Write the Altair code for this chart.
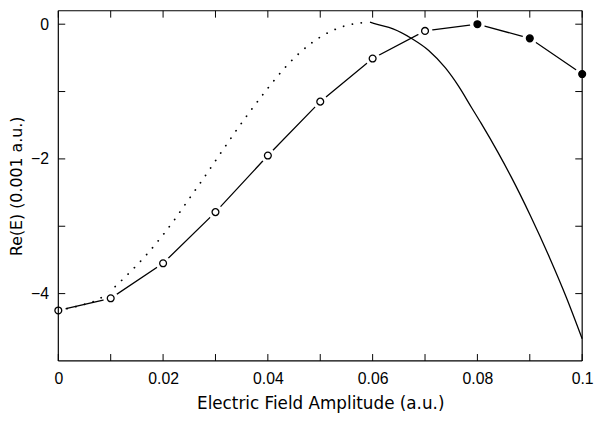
import altair as alt
import pandas as pd

# ---- data ----
field = [0.00, 0.01, 0.02, 0.03, 0.04, 0.05, 0.06, 0.07, 0.08, 0.09, 0.10]
energy = [-4.25, -4.07, -3.55, -2.79, -1.95, -1.15, -0.51, -0.10, 0.00, -0.21, -0.74]
marker = ["open", "open", "open", "open", "open", "open", "open", "open",
          "filled", "filled", "filled"]

dot_x = [0.000, 0.004, 0.008, 0.0105, 0.0128, 0.0172, 0.0222, 0.0240, 0.0269,
         0.0358, 0.0397, 0.0438, 0.0485, 0.0545, 0.0595]
dot_y = [-4.25, -4.18, -4.07, -3.92, -3.75, -3.39, -2.90, -2.70, -2.38,
         -1.38, -0.98, -0.60, -0.27, -0.03, 0.03]

sol_x = [0.0595, 0.0607, 0.0639, 0.0676, 0.0707, 0.0739, 0.0764, 0.0789, 0.0807,
         0.0839, 0.0864, 0.0901, 0.0938, 0.0970, 0.1000]
sol_y = [0.03, 0.00, -0.07, -0.22, -0.39, -0.65, -0.92, -1.24, -1.47,
         -1.90, -2.26, -2.84, -3.47, -4.06, -4.67]

x_ticks = [0.00, 0.01, 0.02, 0.03, 0.04, 0.05, 0.06, 0.07, 0.08, 0.09, 0.10]
y_ticks = [0, -1, -2, -3, -4]
x_labels = [0, 0.02, 0.04, 0.06, 0.08, 0.1]
y_labels = [0, -2, -4]

x_title = "Electric Field Amplitude (a.u.)"
y_title = "Re(E) (0.001 a.u.)"

# ---- chart ----
W, H = 531, 355
TK = 7
xs = alt.Scale(domain=[0, 0.1], nice=False, zero=False)
ys = alt.Scale(domain=[-5, 0.2], nice=False, zero=False)

pts = pd.DataFrame({"x": field, "y": energy, "kind": marker})
dots = pd.DataFrame({"x": dot_x, "y": dot_y})
sol = pd.DataFrame({"x": sol_x, "y": sol_y})
xt = pd.DataFrame({"t": x_ticks})
yt = pd.DataFrame({"t": y_ticks})
one = pd.DataFrame({"a": [0]})

x_axis = alt.Axis(values=x_labels, format="~g", ticks=False, domain=False, grid=False,
                  labelFont="Liberation Sans", labelFontSize=16, labelPadding=10,
                  labelFlush=False, labelColor="black",
                  title=x_title, titleFont="DejaVu Sans", titleFontSize=17,
                  titleFontWeight="normal", titlePadding=9, titleColor="black")
y_axis = alt.Axis(values=y_labels, format="~g", ticks=False, domain=False, grid=False,
                  labelFont="Liberation Sans", labelFontSize=16, labelPadding=10,
                  labelFlush=False, labelColor="black",
                  title=y_title, titleFont="DejaVu Sans", titleFontSize=16,
                  titleFontWeight="normal", titlePadding=6, titleColor="black")

connect = alt.Chart(pts).mark_line(color="black", strokeWidth=1.3).encode(
    x=alt.X("x:Q", scale=xs, axis=x_axis),
    y=alt.Y("y:Q", scale=ys, axis=y_axis),
)
dotted = alt.Chart(dots).mark_line(color="black", strokeWidth=1.8, strokeDash=[0.1, 9],
                                   strokeCap="round", interpolate="monotone").encode(
    x=alt.X("x:Q", scale=xs), y=alt.Y("y:Q", scale=ys))
solid = alt.Chart(sol).mark_line(color="black", strokeWidth=1.3,
                                 interpolate="monotone").encode(
    x=alt.X("x:Q", scale=xs), y=alt.Y("y:Q", scale=ys))
backing = alt.Chart(pts).mark_point(shape="circle", filled=True, color="white",
                                    opacity=1, size=230).encode(
    x=alt.X("x:Q", scale=xs), y=alt.Y("y:Q", scale=ys))
circles = alt.Chart(pts).mark_point(shape="circle", filled=True, stroke="black",
                                    strokeWidth=1.3, opacity=1, size=48).encode(
    x=alt.X("x:Q", scale=xs), y=alt.Y("y:Q", scale=ys),
    fill=alt.Fill("kind:N", scale=alt.Scale(domain=["open", "filled"],
                                            range=["white", "black"]), legend=None))

tick_bottom = alt.Chart(xt).mark_rule(color="black", strokeWidth=1).encode(
    x=alt.X("t:Q", scale=xs), y=alt.value(H), y2=alt.value(H - TK))
tick_top = alt.Chart(xt).mark_rule(color="black", strokeWidth=1).encode(
    x=alt.X("t:Q", scale=xs), y=alt.value(0), y2=alt.value(TK))
tick_left = alt.Chart(yt).mark_rule(color="black", strokeWidth=1).encode(
    y=alt.Y("t:Q", scale=ys), x=alt.value(0), x2=alt.value(TK))
tick_right = alt.Chart(yt).mark_rule(color="black", strokeWidth=1).encode(
    y=alt.Y("t:Q", scale=ys), x=alt.value(W), x2=alt.value(W - TK))

frame_b = alt.Chart(one).mark_rule(color="black", strokeWidth=1.2).encode(
    x=alt.value(0), x2=alt.value(W), y=alt.value(H))
frame_t = alt.Chart(one).mark_rule(color="black", strokeWidth=1.2).encode(
    x=alt.value(0), x2=alt.value(W), y=alt.value(0))
frame_l = alt.Chart(one).mark_rule(color="black", strokeWidth=1.2).encode(
    y=alt.value(0), y2=alt.value(H), x=alt.value(0))
frame_r = alt.Chart(one).mark_rule(color="black", strokeWidth=1.2).encode(
    y=alt.value(0), y2=alt.value(H), x=alt.value(W))

chart = alt.layer(
    connect, dotted, solid, backing, circles,
    tick_bottom, tick_top, tick_left, tick_right,
    frame_b, frame_t, frame_l, frame_r,
).properties(
    width=W, height=H,
    autosize=alt.AutoSizeParams(type="none"),
    padding={"left": 51, "top": 0, "right": 13, "bottom": 50},
    background="white",
).configure_view(stroke=None)

chart.save("out.html", embed_options={"renderer": "svg", "actions": False})
